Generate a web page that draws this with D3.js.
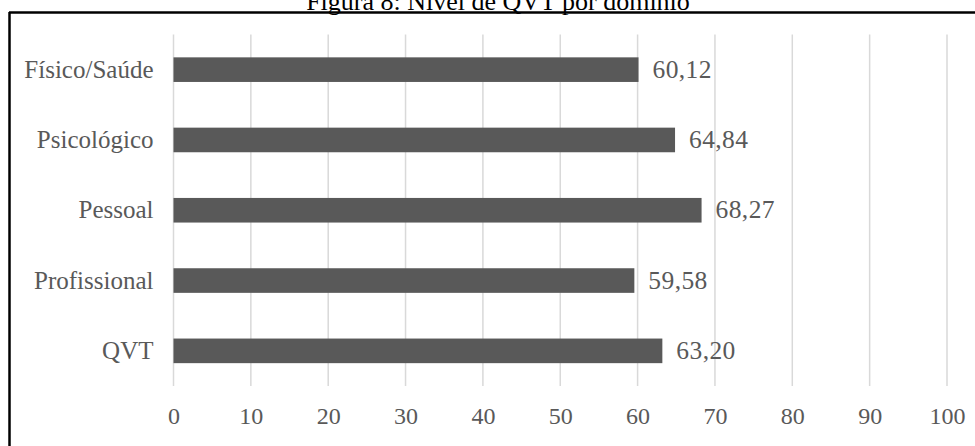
<!DOCTYPE html>
<html>
<head>
<meta charset="utf-8">
<script src="https://cdn.jsdelivr.net/npm/d3@7"></script>
<style>
  body { margin: 0; background: #fff; }
  text { font-family: "Liberation Serif", "Times New Roman", serif; }
</style>
</head>
<body>
<svg id="chart"></svg>
<script>
// data
var categories = ["Físico/Saúde", "Psicológico", "Pessoal", "Profissional", "QVT"];
var values = [60.12, 64.84, 68.27, 59.58, 63.20];
var tickValues = [0, 10, 20, 30, 40, 50, 60, 70, 80, 90, 100];
var title = "Figura 8: Nível de QVT por domínio";

var width = 975, height = 446;
var grey = "#595959";

var svg = d3.select("#chart")
  .attr("width", width)
  .attr("height", height);

// frame (only top and left edges show, the rest is cropped)
svg.append("line").attr("x1", 9).attr("x2", width).attr("y1", 12.5).attr("y2", 12.5)
  .attr("stroke", "#000").attr("stroke-width", 2.5);
svg.append("line").attr("x1", 9.5).attr("x2", 9.5).attr("y1", 12).attr("y2", height)
  .attr("stroke", "#000").attr("stroke-width", 2.5);

// title, cut off at the top
svg.append("text")
  .attr("x", 498).attr("y", 10)
  .attr("text-anchor", "middle")
  .style("font-size", "26px")
  .attr("fill", "#000")
  .text(title);

var x = d3.scaleLinear().domain([0, 100]).range([173.5, 947]);
var y = d3.scaleBand().domain(categories).range([34.5, 386]).paddingInner(0.65).paddingOuter(0.325);

// vertical gridlines
svg.append("g")
  .selectAll("line")
  .data(tickValues)
  .enter()
  .append("line")
  .attr("x1", function (d) { return x(d); })
  .attr("x2", function (d) { return x(d); })
  .attr("y1", 34.5)
  .attr("y2", 386)
  .attr("stroke", "#d9d9d9")
  .attr("stroke-width", 1.5);

// x axis tick labels
var xAxis = svg.append("g")
  .attr("transform", "translate(0,386)")
  .call(d3.axisBottom(x).tickValues(tickValues).tickSize(0).tickPadding(0).tickFormat(d3.format("d")));
xAxis.select(".domain").remove();
xAxis.selectAll("text")
  .attr("y", 30)
  .attr("dy", "0.32em")
  .attr("fill", grey)
  .style("font-size", "24px")
  .style("font-family", "Liberation Serif, serif");

// category labels
var yAxis = svg.append("g")
  .attr("transform", "translate(173.5,0)")
  .call(d3.axisLeft(y).tickSize(0).tickPadding(20));
yAxis.select(".domain").remove();
yAxis.selectAll("text")
  .attr("fill", grey)
  .style("font-size", "25px")
  .style("font-family", "Liberation Serif, serif");

// bars
svg.append("g")
  .selectAll("rect")
  .data(values)
  .enter()
  .append("rect")
  .attr("x", x(0))
  .attr("y", function (d, i) { return y(categories[i]); })
  .attr("width", function (d) { return x(d) - x(0); })
  .attr("height", y.bandwidth())
  .attr("fill", grey);

// value labels
var fmt = function (v) { return v.toFixed(2).replace(".", ","); };
svg.append("g")
  .selectAll("text")
  .data(values)
  .enter()
  .append("text")
  .attr("x", function (d) { return x(d) + 14; })
  .attr("y", function (d, i) { return y(categories[i]) + y.bandwidth() / 2; })
  .attr("dy", "0.32em")
  .attr("fill", grey)
  .style("font-size", "25.5px")
  .style("letter-spacing", "0.4px")
  .text(fmt);
</script>
</body>
</html>
